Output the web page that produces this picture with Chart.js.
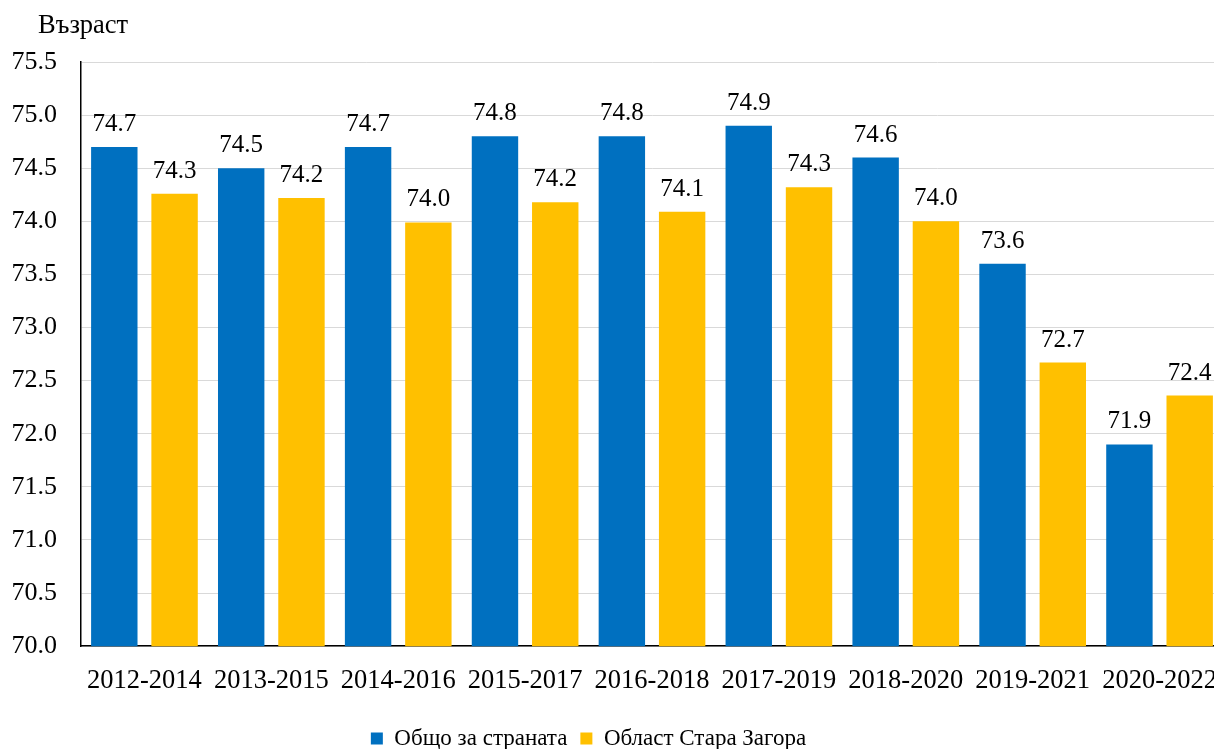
<!DOCTYPE html>
<html>
<head>
<meta charset="utf-8">
<script src="https://cdn.jsdelivr.net/npm/chart.js@4"></script>
<style>
  html, body { margin: 0; padding: 0; background: #fff; overflow: hidden; }
  #wrap { width: 1223px; height: 749px; }
</style>
</head>
<body>
<div id="wrap"><canvas id="lifeChart"></canvas></div>
<script>
const periods = ['2012-2014', '2013-2015', '2014-2016', '2015-2017', '2016-2018', '2017-2019', '2018-2020', '2019-2021', '2020-2022'];
const countryValues = [74.70, 74.50, 74.70, 74.80, 74.80, 74.90, 74.60, 73.60, 71.90];
const staraZagoraValues = [74.26, 74.22, 73.99, 74.18, 74.09, 74.32, 74.00, 72.67, 72.36];
const seriesNames = ['Общо за страната', 'Област Стара Загора'];
const axisTitle = 'Възраст';

const serif = "'Liberation Serif', 'Times New Roman', serif";

// etiketi nad stalbovete + zaglavie na osta
const labelsPlugin = {
  id: 'barLabels',
  afterLayout(chart) {
    // legendata v originala e malko nalyavo i nagore
    const lg = chart.legend;
    if (lg) {
      lg.left -= 28;
      lg.right -= 28;
      lg.top -= 2;
      lg.bottom -= 2;
    }
  },
  afterDatasetsDraw(chart) {
    const ctx = chart.ctx;
    ctx.save();
    ctx.font = '25px ' + serif;
    ctx.fillStyle = '#000';
    ctx.textAlign = 'center';
    ctx.textBaseline = 'alphabetic';
    chart.data.datasets.forEach((ds, i) => {
      chart.getDatasetMeta(i).data.forEach((bar, j) => {
        ctx.fillText(ds.data[j].toFixed(1), bar.x, bar.y - 16);
      });
    });
    ctx.textAlign = 'left';
    ctx.font = '26.5px ' + serif;
    ctx.fillText(axisTitle, chart.chartArea.left - 43, 33);
    ctx.restore();
  }
};

document.addEventListener('DOMContentLoaded', function() {
  const ctx = document.getElementById('lifeChart').getContext('2d');
  new Chart(ctx, {
    type: 'bar',
    data: {
      labels: periods,
      datasets: [
        {
          label: seriesNames[0],
          data: countryValues,
          backgroundColor: '#0070C0'
        },
        {
          label: seriesNames[1],
          data: staraZagoraValues,
          backgroundColor: '#FFC000'
        }
      ]
    },
    options: {
      responsive: true,
      maintainAspectRatio: false,
      animation: false,
      categoryPercentage: 0.95,
      barPercentage: 0.77,
      layout: {
        padding: { top: 62, left: 10, right: 0, bottom: -13 }
      },
      plugins: {
        legend: {
          position: 'bottom',
          labels: {
            boxWidth: 12,
            boxHeight: 12,
            padding: 13,
            color: '#000',
            font: { family: serif, size: 23 }
          }
        },
        tooltip: { enabled: false }
      },
      scales: {
        y: {
          min: 70,
          max: 75.5,
          afterFit(scale) { scale.width = 71; },
          ticks: {
            stepSize: 0.5,
            padding: 24,
            color: '#000',
            font: { family: serif, size: 26 },
            callback: v => Number(v).toFixed(1)
          },
          grid: { color: '#d9d9d9', lineWidth: 1, drawTicks: false },
          border: { color: '#000', width: 1.5 }
        },
        x: {
          afterFit(scale) { scale.paddingRight = 0; scale.paddingLeft = 0; },
          ticks: {
            padding: 19,
            color: '#000',
            maxRotation: 0,
            font: { family: serif, size: 26.5 }
          },
          grid: { display: false, drawTicks: false },
          border: { color: '#000', width: 1.5 }
        }
      }
    },
    plugins: [labelsPlugin]
  });
});
</script>
</body>
</html>
